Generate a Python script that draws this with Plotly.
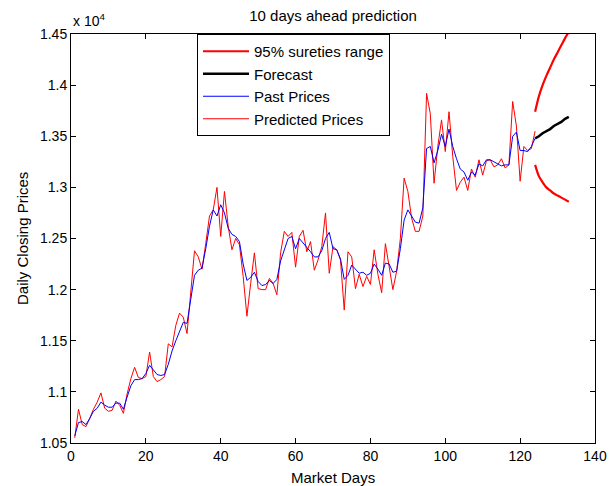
import plotly.graph_objects as go

# Values in units of 10^4
past_days = list(range(1, 125))
past_prices = [
    1.057, 1.070, 1.071, 1.068, 1.074, 1.081, 1.084, 1.090, 1.087, 1.085,
    1.085, 1.089, 1.089, 1.083, 1.095, 1.106, 1.112, 1.112, 1.113, 1.118,
    1.126, 1.121, 1.117, 1.116, 1.117, 1.127, 1.140, 1.150, 1.160, 1.168,
    1.167, 1.190, 1.214, 1.219, 1.221, 1.240, 1.262, 1.278, 1.272, 1.283,
    1.275, 1.260, 1.254, 1.252, 1.247, 1.225, 1.209, 1.212, 1.217, 1.208,
    1.204, 1.205, 1.209, 1.206, 1.210, 1.228, 1.240, 1.250, 1.252, 1.240,
    1.250, 1.246, 1.242, 1.237, 1.232, 1.232, 1.238, 1.250, 1.256, 1.240,
    1.239, 1.230, 1.210, 1.214, 1.224, 1.220, 1.216, 1.217, 1.214, 1.216,
    1.225, 1.220, 1.214, 1.226, 1.225, 1.217, 1.218, 1.240, 1.268, 1.278,
    1.272, 1.266, 1.265, 1.280, 1.338, 1.340, 1.324, 1.336, 1.352, 1.340,
    1.357, 1.340, 1.328, 1.318, 1.315, 1.307, 1.315, 1.312, 1.323, 1.321,
    1.327, 1.327, 1.325, 1.323, 1.321, 1.322, 1.322, 1.350, 1.354, 1.336,
    1.336, 1.335, 1.340, 1.348,
]
predicted_prices = [
    1.055, 1.083, 1.068, 1.066, 1.074, 1.083, 1.090, 1.099, 1.084, 1.081,
    1.082, 1.091, 1.087, 1.079, 1.098, 1.113, 1.124, 1.114, 1.113, 1.115,
    1.139, 1.115, 1.110, 1.112, 1.115, 1.147, 1.144, 1.165, 1.177, 1.173,
    1.157, 1.200, 1.238, 1.232, 1.220, 1.245, 1.272, 1.278, 1.300, 1.252,
    1.296, 1.262, 1.239, 1.250, 1.244, 1.213, 1.174, 1.206, 1.236, 1.201,
    1.200, 1.200, 1.211, 1.206, 1.195, 1.236, 1.257, 1.252, 1.256, 1.222,
    1.252, 1.258, 1.237, 1.247, 1.219, 1.229, 1.242, 1.275, 1.216, 1.242,
    1.239, 1.229, 1.180, 1.237, 1.232, 1.201, 1.215, 1.203, 1.213, 1.205,
    1.239, 1.215, 1.197, 1.245, 1.224, 1.200, 1.218, 1.250, 1.309, 1.296,
    1.270, 1.257, 1.257, 1.272, 1.392, 1.372, 1.304, 1.340, 1.366, 1.335,
    1.374, 1.330, 1.297, 1.305, 1.310, 1.297, 1.318, 1.310, 1.327, 1.312,
    1.326, 1.327, 1.320, 1.322, 1.328, 1.319, 1.322, 1.384, 1.360, 1.306,
    1.340, 1.336, 1.338, 1.355,
]
forecast_days = list(range(124, 134))
forecast = [1.348, 1.350, 1.353, 1.355, 1.357, 1.360, 1.362, 1.364, 1.367, 1.369]
upper_range = [1.374, 1.389, 1.400, 1.409, 1.417, 1.425, 1.432, 1.439, 1.446, 1.452]
lower_range = [1.322, 1.311, 1.305, 1.300, 1.297, 1.294, 1.292, 1.290, 1.288, 1.286]

x_ticks = [0, 20, 40, 60, 80, 100, 120, 140]
y_ticks = [1.05, 1.1, 1.15, 1.2, 1.25, 1.3, 1.35, 1.4, 1.45]
y_tick_text = ["1.05", "1.1", "1.15", "1.2", "1.25", "1.3", "1.35", "1.4", "1.45"]

FONT = "Liberation Sans, Arial, sans-serif"
W, H = 614, 486
L, R, T, B = 71, 19, 34, 43
PW, PH = W - L - R, H - T - B

fig = go.Figure()
fig.add_trace(go.Scatter(
    x=forecast_days + [None] + forecast_days,
    y=upper_range + [None] + lower_range,
    mode="lines", line=dict(color="#ff0000", width=2.2, shape="spline", smoothing=0.8),
    name="95% sureties range", legendrank=1, connectgaps=False,
))
fig.add_trace(go.Scatter(
    x=forecast_days, y=forecast, mode="lines",
    line=dict(color="#000000", width=2.5), name="Forecast", legendrank=2,
))
fig.add_trace(go.Scatter(
    x=past_days, y=predicted_prices, mode="lines",
    line=dict(color="#ff0000", width=1), name="Predicted Prices", legendrank=4,
))
fig.add_trace(go.Scatter(
    x=past_days, y=past_prices, mode="lines",
    line=dict(color="#0000ff", width=1), name="Past Prices", legendrank=3,
))

axis_common = dict(
    showgrid=False, zeroline=False, showline=True, linecolor="black", linewidth=1,
    mirror="ticks", ticks="inside", ticklen=5, tickcolor="black", automargin=False,
    tickfont=dict(family=FONT, size=14, color="black"),
)
fig.update_layout(
    width=W, height=H,
    margin=dict(l=L, r=R, t=T, b=B),
    paper_bgcolor="white", plot_bgcolor="white",
    font=dict(family=FONT, size=14, color="black"),
    title=dict(text="10 days ahead prediction", x=(L + PW / 2) / W, xanchor="center",
               y=1 - 16 / H, yanchor="middle", font=dict(family=FONT, size=15)),
    xaxis=dict(range=[0, 140], tickvals=x_ticks, **axis_common),
    yaxis=dict(range=[1.05, 1.45], tickvals=y_ticks, ticktext=y_tick_text, **axis_common),
    legend=dict(x=(197 - L) / PW, y=1.0, xanchor="left", yanchor="top",
                bordercolor="black", borderwidth=1, bgcolor="white",
                font=dict(family=FONT, size=15), tracegroupgap=0,
                itemwidth=46),
    showlegend=True,
)
fig.add_annotation(text="x 10<sup>4</sup>", xref="paper", yref="paper",
                   x=0, y=1, xanchor="left", yanchor="bottom", yshift=3,
                   showarrow=False, font=dict(family=FONT, size=14))
fig.add_annotation(text="Market Days", xref="paper", yref="paper",
                   x=0.5, y=-(478 - (T + PH)) / PH, xanchor="center", yanchor="middle",
                   showarrow=False, font=dict(family=FONT, size=15))
fig.add_annotation(text="Daily Closing Prices", xref="paper", yref="paper",
                   x=-(L - 22) / PW, y=1 - (239 - T) / PH, xanchor="center", yanchor="middle",
                   textangle=-90, showarrow=False, font=dict(family=FONT, size=15))

fig.write_html("out.html")
